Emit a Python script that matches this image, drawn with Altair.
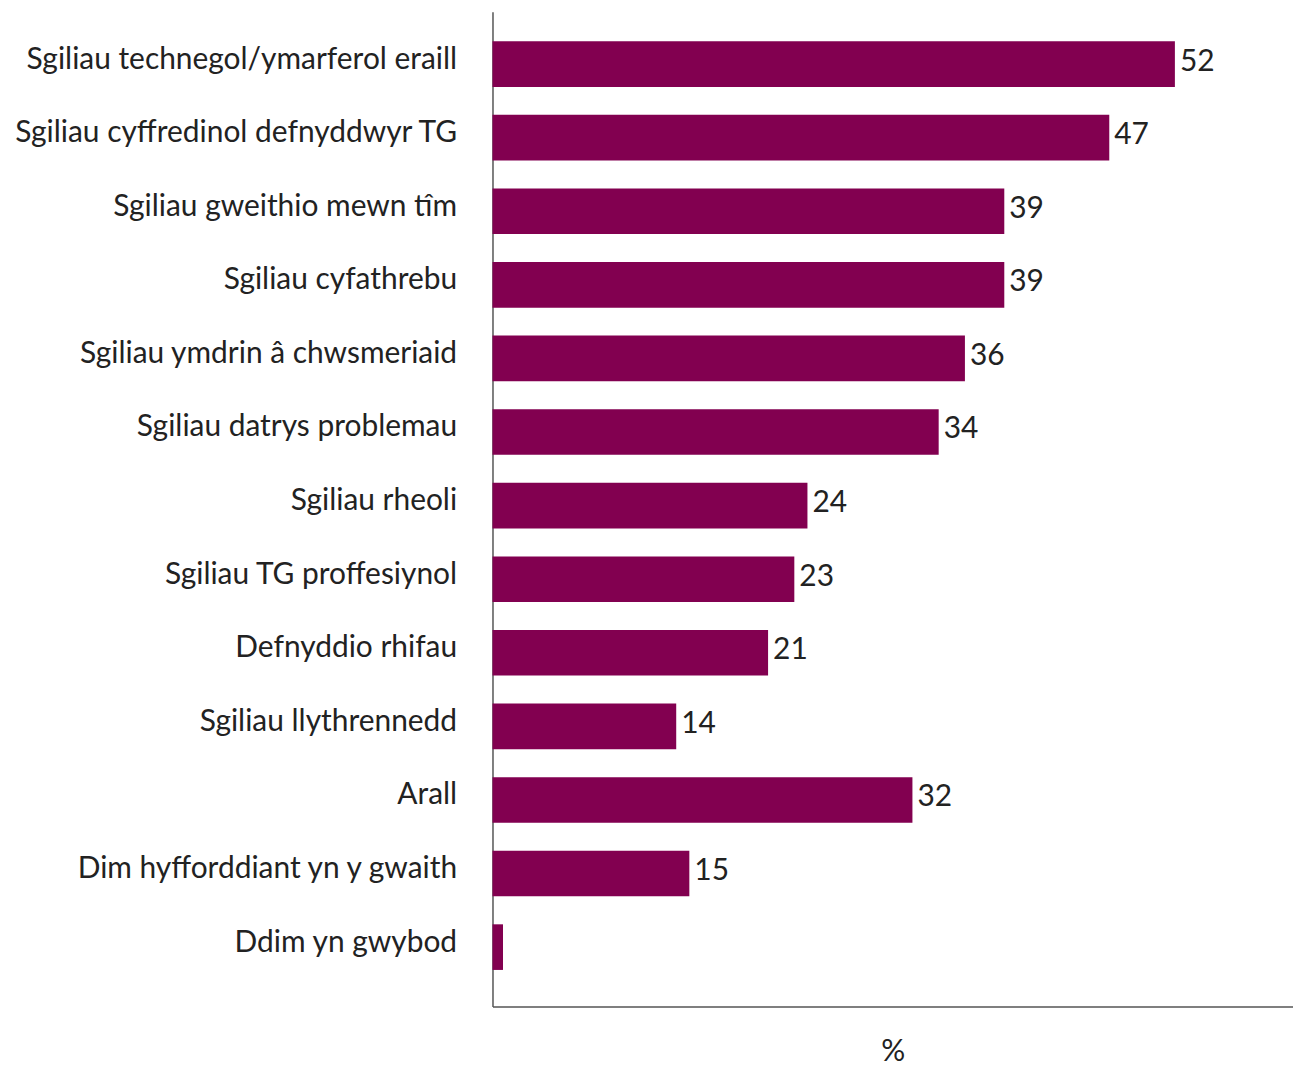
import altair as alt
import pandas as pd

categories = [
    "Sgiliau technegol/ymarferol eraill",
    "Sgiliau cyffredinol defnyddwyr TG",
    "Sgiliau gweithio mewn tîm",
    "Sgiliau cyfathrebu",
    "Sgiliau ymdrin â chwsmeriaid",
    "Sgiliau datrys problemau",
    "Sgiliau rheoli",
    "Sgiliau TG proffesiynol",
    "Defnyddio rhifau",
    "Sgiliau llythrennedd",
    "Arall",
    "Dim hyfforddiant yn y gwaith",
    "Ddim yn gwybod",
]
values = [52, 47, 39, 39, 36, 34, 24, 23, 21, 14, 32, 15, 0.8]
labels = ["52", "47", "39", "39", "36", "34", "24", "23", "21", "14", "32", "15", ""]

df = pd.DataFrame({"cat": categories, "val": values, "lab": labels})

FONT = "Lato"
FS = 30
y_enc = alt.Y(
    "cat:N",
    sort=categories,
    title=None,
    scale=alt.Scale(paddingInner=0.38, paddingOuter=0.45),
    axis=alt.Axis(
        domain=True,
        domainColor="#555555",
        domainWidth=1.5,
        ticks=False,
        labelFontSize=FS,
        labelFont=FONT,
        labelColor="#222222",
        labelPadding=36,
        labelLimit=800,
        labelOffset=-8,
    ),
)
x_enc = alt.X(
    "val:Q",
    title="%",
    scale=alt.Scale(domain=[0, 61], nice=False),
    axis=alt.Axis(
        domain=True,
        domainColor="#555555",
        domainWidth=1.5,
        ticks=False,
        labels=False,
        grid=False,
        titleFontSize=FS,
        titleFont=FONT,
        titleFontWeight="normal",
        titleColor="#222222",
        titlePadding=30,
    ),
)

bars = alt.Chart(df).mark_bar(color="#820050", yOffset=-3.5).encode(x=x_enc, y=y_enc)
text = alt.Chart(df).mark_text(
    align="left", baseline="middle", dx=5, dy=-6, fontSize=FS, font=FONT, color="#222222"
).encode(x="val:Q", y=alt.Y("cat:N", sort=categories), text="lab:N")

chart = (
    alt.layer(bars, text)
    .properties(width=803, height=998, padding={"left": 5, "top": 2, "right": 0, "bottom": 0})
    .configure_view(stroke=None)
)
chart.save("out.html", embed_options={"renderer": "svg", "actions": False})
